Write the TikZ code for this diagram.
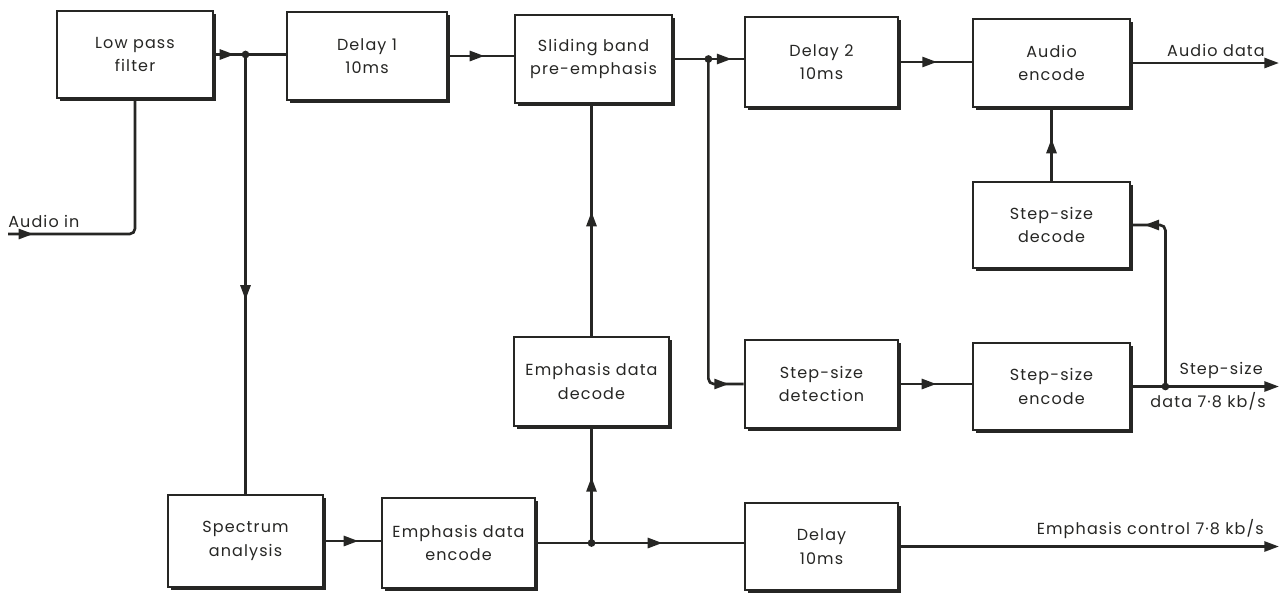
\documentclass[tikz,border=0pt]{standalone}
\usepackage{fontspec}
\setmainfont{Poppins}[LetterSpace=7]
\usetikzlibrary{arrows.meta,decorations.markings,shadows,calc}
\definecolor{ink}{RGB}{38,38,36}
\tikzset{
  x=0.75pt,y=-0.75pt,
  blk/.style 2 args={draw=ink,line width=2.1pt,fill=white,align=center,text=ink,
    font=\fontsize{12}{17.5}\selectfont,inner sep=0pt,
    minimum width=#1,minimum height=#2,
    drop shadow={shadow xshift=2.3pt,shadow yshift=-2.3pt,fill=ink,opacity=1}},
  wire/.style={draw=ink,line width=2pt},
  tip/.style={postaction={decorate},decoration={markings,
    mark=at position #1 with {\arrow{Triangle[length=11pt,width=7.5pt]}}}},
  endtip/.style={-{Triangle[length=11pt,width=7.5pt]}},
  lbl/.style={text=ink,font=\fontsize{12}{13}\selectfont,inner sep=0pt},
  dot/.style={fill=ink}
}
\begin{document}
\begin{tikzpicture}
\useasboundingbox (0,0) rectangle (1280,593);
% blocks
\node[blk={117pt}{65.25pt}]   (lpf) at (135,54.5)   {Low pass\\filter};
\node[blk={120pt}{66pt}]      (d1)  at (367,56)     {Delay 1\\10ms};
\node[blk={117.75pt}{66pt}]   (sb)  at (593.5,59)   {Sliding band\\pre-emphasis};
\node[blk={114.75pt}{67.5pt}] (d2)  at (821.5,62)   {Delay 2\\10ms};
\node[blk={117.75pt}{66pt}]   (ae)  at (1051.5,63)  {Audio\\encode};
\node[blk={117.75pt}{64.5pt}] (sdc) at (1051.5,225) {Step-size\\decode};
\node[blk={114.75pt}{66pt}]   (sdt) at (821.5,384)  {Step-size\\detection};
\node[blk={117.75pt}{65.25pt}](sen) at (1051.5,386.5){Step-size\\encode};
\node[blk={114.75pt}{65.25pt}](dly) at (821.5,546.5){Delay\\10ms};
\node[blk={116.25pt}{69pt}]   (spa) at (245.5,541)  {Spectrum\\analysis};
\node[blk={114.75pt}{67.5pt}] (een) at (458.5,543)  {Emphasis data\\encode};
\node[blk={116.25pt}{66.75pt}](edd) at (591.5,381.5){Emphasis data\\decode};
% coordinates
\coordinate (ain) at (8,234);
\coordinate (j1) at (spa.north |- lpf.east);
\coordinate (j2) at ($(sb.east)+(35,0)$);
\coordinate (j3) at ($(sen.east)+(34,0)$);
\coordinate (j4) at (edd.south |- een.east);
\coordinate (aout) at (1279,63);
\coordinate (sout) at (1279,386.5);
\coordinate (eout) at (1279,546.5);
% connectors
\draw[wire,rounded corners=4pt,tip=19pt] (ain) -- (lpf.south |- ain) -- (lpf.south);
\draw[wire,tip=15pt] (lpf.east) -- (lpf.east -| d1.west);
\draw[wire,tip=184pt] (j1) -- (spa.north);
\draw[wire,tip=27pt] (d1.east) -- (d1.east -| sb.west);
\draw[wire,tip=-9pt] (sb.east) -- (sb.east -| d2.west);
\draw[wire,rounded corners=4pt,tip=-11pt] (j2) -- (j2 |- sdt.west) -- (sdt.west);
\draw[wire,tip=-26pt] (d2.east) -- (d2.east -| ae.west);
\draw[wire,endtip] (ae.east) -- (ae.east -| aout);
\draw[wire,tip=31.5pt] (sdc.north) -- (ae.south);
\draw[wire,tip=27.75pt] (sdt.east) -- (sdt.east -| sen.west);
\draw[wire,endtip] (sen.east) -- (sout);
\draw[wire,rounded corners=4pt,tip=-9.75pt] (j3) -- (j3 |- sdc.east) -- (sdc.east);
\draw[wire,tip=25.5pt] (spa.east) -- (spa.east -| een.west);
\draw[wire,tip=94.5pt] (een.east) -- (een.east -| dly.west);
\draw[wire,tip=49.5pt] (j4) -- (edd.south);
\draw[wire,tip=93pt] (edd.north) -- (edd.north |- sb.south);
\draw[wire,endtip] (dly.east) -- (eout);
% junction dots
\fill[dot] (j1) circle (2.9pt);
\fill[dot] (j2) circle (2.9pt);
\fill[dot] (j3) circle (2.9pt);
\fill[dot] (j4) circle (2.9pt);
% labels
\node[lbl,anchor=south west] (lain) at (8,228) {Audio in};
\node[lbl,anchor=south east] (lad) at (1265,57) {Audio data};
\node[lbl,anchor=south east] (lss) at (1263,379) {Step-size};
\node[lbl,anchor=north east] (lsd) at (1266,392) {data 7·8 kb/s};
\node[lbl,anchor=south east] (lec) at (1264,539) {Emphasis control 7·8 kb/s};
\end{tikzpicture}
\end{document}
